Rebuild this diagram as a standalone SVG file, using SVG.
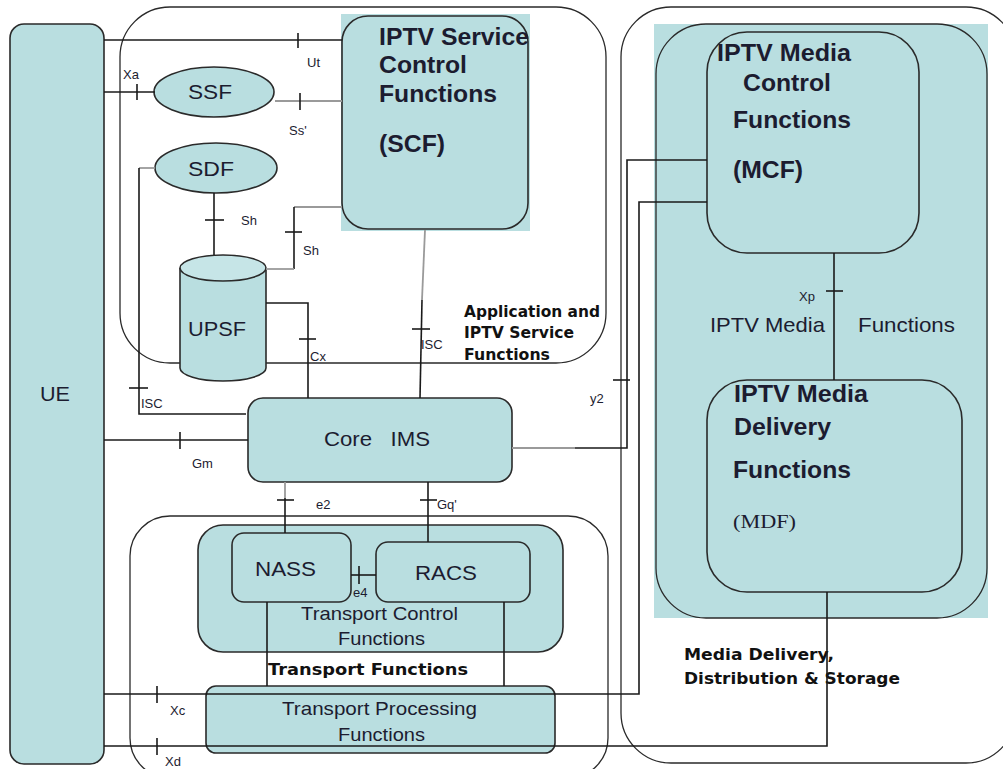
<svg xmlns="http://www.w3.org/2000/svg" width="1003" height="769" viewBox="0 0 1003 769">
<style>
.box{fill:#b9dee0;stroke:#2a2a2a;stroke-width:1.6}
.teal{fill:#b9dee0;stroke:none}
.cont{fill:none;stroke:#2a2a2a;stroke-width:1.3}
.ln{fill:none;stroke:#1a1a1a;stroke-width:1.6}
.gl{fill:none;stroke:#9a9a9a;stroke-width:1.8}
.t{font-family:"Liberation Sans",Arial,sans-serif;fill:#1c1c30}
.lbl{font-family:"Liberation Sans",Arial,sans-serif;font-size:13px;fill:#1c1c30}
.big{font-family:"Liberation Sans",Arial,sans-serif;font-size:24px;font-weight:bold;fill:#1c1c30}
.bold{font-family:"DejaVu Sans",Verdana,sans-serif;font-size:15px;font-weight:bold;fill:#111}
</style>
<rect width="1003" height="769" fill="#ffffff"/>

<!-- containers -->
<g id="app-container">
<rect class="cont" x="120" y="7" width="486" height="356" rx="50"/>
<text class="bold" x="464" y="317" textLength="136" lengthAdjust="spacingAndGlyphs">Application and</text>
<text class="bold" x="464" y="338" textLength="110" lengthAdjust="spacingAndGlyphs">IPTV Service</text>
<text class="bold" x="464" y="360" textLength="86" lengthAdjust="spacingAndGlyphs">Functions</text>
</g>
<g id="media-container">
<rect class="cont" x="621" y="7" width="395" height="756" rx="50"/>
<rect class="teal" x="654" y="24" width="334" height="594"/>
<rect class="cont" x="656" y="24" width="331" height="594" rx="50"/>
<text class="t" font-size="21" x="710" y="332" textLength="115" lengthAdjust="spacingAndGlyphs">IPTV Media</text>
<text class="t" font-size="21" x="858" y="332" textLength="97" lengthAdjust="spacingAndGlyphs">Functions</text>
<text class="bold" x="684" y="660" textLength="150" lengthAdjust="spacingAndGlyphs">Media Delivery,</text>
<text class="bold" x="684" y="684" textLength="216" lengthAdjust="spacingAndGlyphs">Distribution &amp; Storage</text>
</g>
<g id="transport-container">
<rect class="cont" x="130" y="516" width="478" height="262" rx="40"/>
<text class="bold" x="268" y="675" textLength="200" lengthAdjust="spacingAndGlyphs">Transport Functions</text>
</g>

<!-- nodes -->
<g id="UE">
<rect class="box" x="10" y="24" width="94" height="740" rx="14"/>
<text class="t" font-size="21" x="40" y="401" textLength="30" lengthAdjust="spacingAndGlyphs">UE</text>
</g>
<g id="SCF">
<rect class="teal" x="341" y="14" width="189" height="217"/>
<rect class="box" x="342" y="16" width="186" height="213" rx="26"/>
<text class="big" x="379" y="45" textLength="150" lengthAdjust="spacingAndGlyphs">IPTV Service</text>
<text class="big" x="379" y="73" textLength="88" lengthAdjust="spacingAndGlyphs">Control</text>
<text class="big" x="379" y="102" textLength="118" lengthAdjust="spacingAndGlyphs">Functions</text>
<text class="big" x="379" y="152" textLength="66" lengthAdjust="spacingAndGlyphs">(SCF)</text>
</g>
<g id="SSF">
<ellipse class="box" cx="214" cy="92" rx="60" ry="25"/>
<text class="t" font-size="20" x="188" y="99" textLength="44" lengthAdjust="spacingAndGlyphs">SSF</text>
</g>
<g id="SDF">
<ellipse class="box" cx="216" cy="168" rx="61" ry="25"/>
<text class="t" font-size="20" x="188" y="176" textLength="46" lengthAdjust="spacingAndGlyphs">SDF</text>
</g>
<g id="UPSF">
<path class="box" d="M180,268 V368 A43,13 0 0 0 266,368 V268"/>
<ellipse cx="223" cy="268" rx="43" ry="13" fill="#c6e5e7" stroke="#2a2a2a" stroke-width="1.6"/>
<text class="t" font-size="21" x="188" y="336" textLength="58" lengthAdjust="spacingAndGlyphs">UPSF</text>
</g>
<g id="CoreIMS">
<rect class="box" x="248" y="398" width="264" height="84" rx="15"/>
<text class="t" font-size="20" x="324" y="446" textLength="106" lengthAdjust="spacingAndGlyphs" xml:space="preserve">Core   IMS</text>
</g>
<g id="TCF">
<rect class="box" x="198" y="525" width="365" height="127" rx="25"/>
<text class="t" font-size="19" x="301" y="620" textLength="157" lengthAdjust="spacingAndGlyphs">Transport Control</text>
<text class="t" font-size="19" x="338" y="645" textLength="87" lengthAdjust="spacingAndGlyphs">Functions</text>
</g>
<g id="NASS">
<rect class="box" x="232" y="533" width="119" height="69" rx="12"/>
<text class="t" font-size="20" x="255" y="576" textLength="61" lengthAdjust="spacingAndGlyphs">NASS</text>
</g>
<g id="RACS">
<rect class="box" x="376" y="542" width="154" height="60" rx="12"/>
<text class="t" font-size="20" x="415" y="580" textLength="62" lengthAdjust="spacingAndGlyphs">RACS</text>
</g>
<g id="TPF">
<rect class="box" x="206" y="686" width="349" height="67" rx="10"/>
<text class="t" font-size="19" x="282" y="715" textLength="195" lengthAdjust="spacingAndGlyphs">Transport Processing</text>
<text class="t" font-size="19" x="338" y="741" textLength="87" lengthAdjust="spacingAndGlyphs">Functions</text>
</g>
<g id="MCF">
<rect class="box" x="707" y="32" width="212" height="221" rx="40"/>
<text class="big" x="717" y="61" textLength="134" lengthAdjust="spacingAndGlyphs">IPTV Media</text>
<text class="big" x="743" y="91" textLength="88" lengthAdjust="spacingAndGlyphs">Control</text>
<text class="big" x="733" y="128" textLength="118" lengthAdjust="spacingAndGlyphs">Functions</text>
<text class="big" x="733" y="178" textLength="70" lengthAdjust="spacingAndGlyphs">(MCF)</text>
</g>
<g id="MDF">
<rect class="box" x="707" y="380" width="255" height="212" rx="40"/>
<text class="big" x="734" y="402" textLength="134" lengthAdjust="spacingAndGlyphs">IPTV Media</text>
<text class="big" x="734" y="435" textLength="97" lengthAdjust="spacingAndGlyphs">Delivery</text>
<text class="big" x="733" y="478" textLength="118" lengthAdjust="spacingAndGlyphs">Functions</text>
<text font-family="'Liberation Serif','Times New Roman',serif" font-size="19" fill="#1c1c30" x="733" y="528" textLength="63" lengthAdjust="spacingAndGlyphs">(MDF)</text>
</g>

<!-- connectors -->
<g id="connectors">
<path class="ln" d="M104,40 H342"/>
<path class="ln" d="M298,33 V48"/>
<path class="ln" d="M104,92 H155"/>
<path class="ln" d="M137,84 V100"/>
<path class="gl" d="M275,101 H342"/>
<path class="ln" d="M300,93 V110"/>
<path class="gl" d="M155,168 H139"/>
<path class="ln" d="M139,168 V414 H246"/>
<path class="ln" d="M129,388 H148"/>
<path class="ln" d="M214,193 V255"/>
<path class="ln" d="M205,220 H224"/>
<path class="gl" d="M342,207 H294"/>
<path class="ln" d="M294,207 V269"/>
<path class="gl" d="M294,269 H266"/>
<path class="ln" d="M285,232 H302"/>
<path class="ln" d="M266,303 H308 V398"/>
<path class="ln" d="M299,339 H316"/>
<path class="gl" d="M425,230 L422,300"/>
<path class="ln" d="M422,300 L420,398"/>
<path class="ln" d="M412,329 H430"/>
<path class="ln" d="M104,440 H248"/>
<path class="ln" d="M180,432 V449"/>
<path class="gl" d="M285,482 V498"/>
<path class="ln" d="M285,498 V533"/>
<path class="ln" d="M277,500 H294"/>
<path class="ln" d="M428,482 V542"/>
<path class="ln" d="M420,500 H437"/>
<path class="ln" d="M351,575 H376"/>
<path class="ln" d="M359,566 V584"/>
<path class="ln" d="M267,602 V686"/>
<path class="ln" d="M504,602 V686"/>
<path class="gl" d="M512,448 H575"/>
<path class="ln" d="M575,448 H627 V160 H707"/>
<path class="ln" d="M613,380 H630"/>
<path class="ln" d="M104,694 H639 V202 H707"/>
<path class="ln" d="M157,686 V703"/>
<path class="ln" d="M104,746 H827 V592"/>
<path class="ln" d="M157,738 V755"/>
<path class="ln" d="M834,253 V380"/>
<path class="ln" d="M826,291 H843"/>
<text class="lbl" x="307" y="67">Ut</text>
<text class="lbl" x="123" y="79">Xa</text>
<text class="lbl" x="289" y="135">Ss'</text>
<text class="lbl" x="241" y="225">Sh</text>
<text class="lbl" x="303" y="255">Sh</text>
<text class="lbl" x="310" y="361">Cx</text>
<text class="lbl" x="421" y="349">ISC</text>
<text class="lbl" x="141" y="408">ISC</text>
<text class="lbl" x="192" y="468">Gm</text>
<text class="lbl" x="316" y="509">e2</text>
<text class="lbl" x="437" y="509">Gq'</text>
<text class="lbl" x="353" y="597" font-size="11">e4</text>
<text class="lbl" x="170" y="715">Xc</text>
<text class="lbl" x="165" y="766">Xd</text>
<text class="lbl" x="799" y="301">Xp</text>
<text class="lbl" x="590" y="403">y2</text>
</g>
</svg>
